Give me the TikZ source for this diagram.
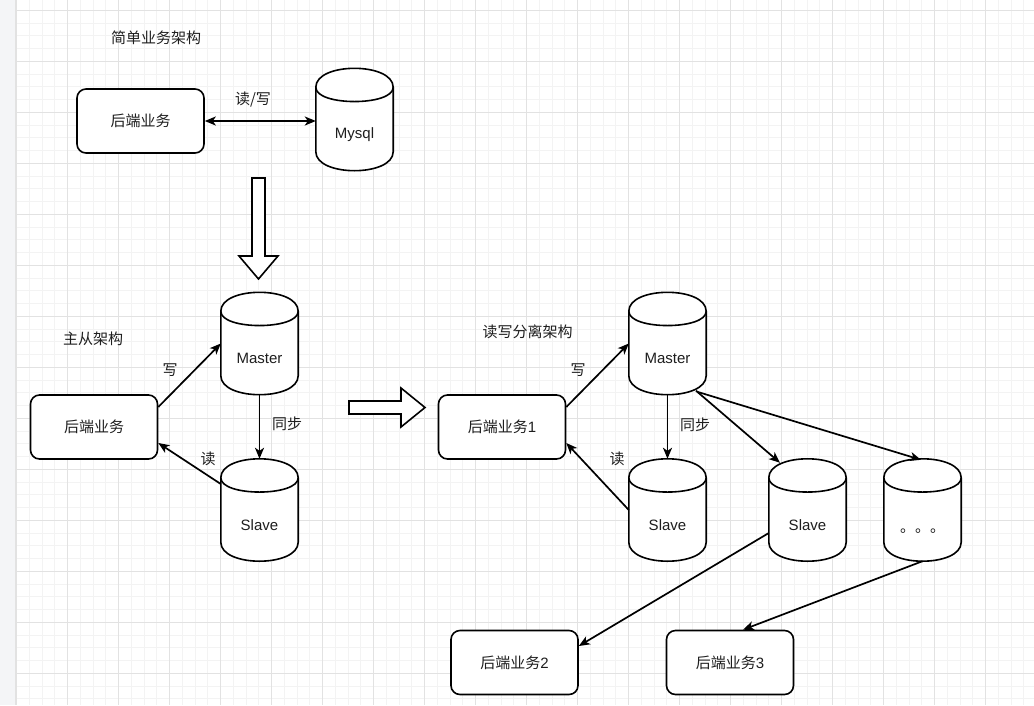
\documentclass[tikz,border=0pt]{standalone}
\usepackage{fontspec}
\setmainfont{Liberation Sans}
\newfontfamily\cjk{Noto Sans CJK SC}
\usetikzlibrary{arrows.meta,calc}
\definecolor{txt}{HTML}{1E1E1E}
\definecolor{gminor}{HTML}{F3F3F3}
\definecolor{gmajor}{HTML}{E2E2E2}
\definecolor{strip}{HTML}{F4F5F7}
\newcommand\fsz{\fontsize{15}{18}\selectfont}
\newcommand\dbcyl[6]{%
  \path (#2,#3) node[cylbox] (#1) {};
  \draw[line, fill=white] ([yshift=-19pt]#1.north west) .. controls ([yshift=6.33pt]#1.north west) and ([yshift=6.33pt]#1.north east) .. ([yshift=-19pt]#1.north east) -- ([yshift=19pt]#1.south east) .. controls ([yshift=-6.33pt]#1.south east) and ([yshift=-6.33pt]#1.south west) .. ([yshift=19pt]#1.south west) -- cycle;
  \draw[line] ([yshift=-19pt]#1.north west) .. controls ([yshift=-38pt]#1.north west) and ([yshift=-38pt]#1.north east) .. ([yshift=-19pt]#1.north east);
  \node[lbl] (#4) at ([yshift=-#6]#1.center) {#5};
}
\begin{document}
\begin{tikzpicture}[x=1pt,y=-1pt,
  line/.style={line width=1.6pt, draw=black},
  conn/.style={line width=1.7pt, draw=black, -{Stealth[length=11pt,width=9pt,inset=3pt]}},
  biconn/.style={line width=1.7pt, draw=black, {Stealth[length=11pt,width=9pt,inset=3pt]}-{Stealth[length=11pt,width=9pt,inset=3pt]}},
  box/.style={draw, line width=1.6pt, rounded corners=9pt, fill=white, minimum width=127pt, minimum height=64pt, inner sep=0pt, font=\fsz\cjk, text=txt},
  cylbox/.style={minimum width=77pt, minimum height=102pt, inner sep=0pt},
  lbl/.style={font=\fsz, text=txt, inner sep=0pt},
  clbl/.style={font=\fsz\cjk, text=txt, inner sep=0pt},
  hollow/.style={line width=1.6pt, draw=black, fill=white},
  ]
\useasboundingbox (0,0) rectangle (1034,705);
% background and grid
\fill[white] (0,0) rectangle (1034,705);
\foreach \i in {0,...,80} {
  \draw[gminor, line width=1pt] ({16.5+12.75*\i},0) -- ({16.5+12.75*\i},705);
}
\foreach \i in {-1,...,55} {
  \draw[gminor, line width=1pt] (16,{10.3+12.75*\i}) -- (1034,{10.3+12.75*\i});
}
\foreach \i in {0,...,20} {
  \draw[gmajor, line width=1pt] ({16.5+51*\i},0) -- ({16.5+51*\i},705);
}
\foreach \i in {0,...,13} {
  \draw[gmajor, line width=1pt] (16,{10.3+51*\i}) -- (1034,{10.3+51*\i});
}
\fill[strip] (0,0) rectangle (15,705);
\draw[gmajor, line width=1.2pt] (15.5,0) -- (15.5,705);

% titles
\node[clbl] (t1) at (156,38) {简单业务架构};
\node[clbl] (t2) at (93,339) {主从架构};
\node[clbl] (t3) at (527.5,332) {读写分离架构};

% simple architecture
\node[box] (b0) at (140.5,121) {后端业务};
\dbcyl{mysql}{354.5}{119.5}{mysqlt}{Mysql}{15pt}
\draw[biconn] (b0.east) -- (b0.east -| mysql.west);
\node[clbl] (l0) at (253,100) {读/写};

% down hollow arrow
\draw[hollow] (252,178) -- (265,178) -- (265,256) -- (278,256) -- (258.5,279) -- (239,256) -- (252,256) -- cycle;

% master-slave
\node[box] (b1) at (94,427) {后端业务};
\dbcyl{m1}{259.5}{343.5}{m1t}{Master}{15pt}
\dbcyl{s1}{259.5}{510}{s1t}{Slave}{15pt}
\draw[conn] ([yshift=20pt]b1.east) -- (m1.west);
\draw[conn] ([yshift=26pt]s1.west) -- ([yshift=-16pt]b1.east);
\draw[conn] (m1.south) -- (s1.north);
\node[clbl] (l1) at (170,370) {写};
\node[clbl] (l2) at (208,459) {读};
\node[clbl] (l3) at (287,424) {同步};

% right hollow arrow
\draw[hollow] (349,401) -- (401,401) -- (401,388) -- (425,407.5) -- (401,427) -- (401,414) -- (349,414) -- cycle;

% read/write split
\node[box] (b2) at (502,427) {后端业务{\rmfamily 1}};
\dbcyl{m2}{667.5}{343.5}{m2t}{Master}{15pt}
\dbcyl{s2}{667.5}{510}{s2t}{Slave}{15pt}
\dbcyl{s3}{807.5}{510}{s3t}{Slave}{15pt}
\dbcyl{s4}{922.5}{510}{s4t}{\cjk 。。。}{21pt}
\node[box] (b3) at (514.5,662.5) {后端业务{\rmfamily 2}};
\node[box] (b4) at (730,662.5) {后端业务{\rmfamily 3}};
\draw[conn] ([yshift=20pt]b2.east) -- (m2.west);
\draw[conn] (s2.west) -- ([yshift=-16pt]b2.east);
\draw[conn] (m2.south) -- (s2.north);
\draw[conn] ([xshift=28.5pt,yshift=4pt]m2.south) -- ([xshift=-27.5pt,yshift=-4pt]s3.north);
\draw[conn] ([xshift=29.5pt,yshift=3pt]m2.south) -- ([xshift=-1.5pt,yshift=-1pt]s4.north);
\draw[conn] ([yshift=-23pt]s3.west) -- ([yshift=16.5pt]b3.east);
\draw[conn] (s4.south) -- ([xshift=13pt]b4.north);
\node[clbl] (l4) at (578,370) {写};
\node[clbl] (l5) at (617,459) {读};
\node[clbl] (l6) at (695,425) {同步};
\end{tikzpicture}
\end{document}
